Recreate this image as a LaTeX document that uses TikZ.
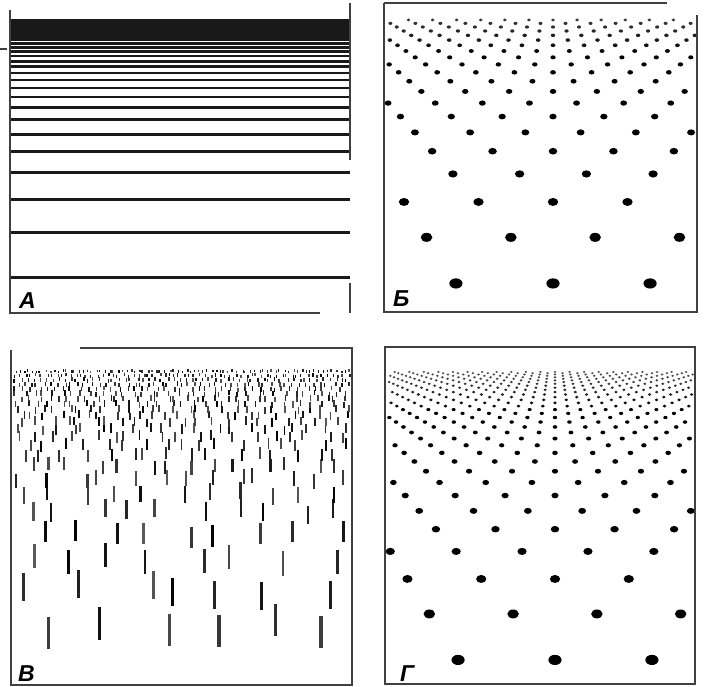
\documentclass[tikz,border=0pt]{standalone}
\usepackage{fontspec}
\setmainfont{Liberation Sans}
\begin{document}
\begin{tikzpicture}[x=1pt,y=-1pt,
  frame/.style={line width=1.1pt,black!75},
  lab/.style={font=\fontsize{23}{23}\selectfont\bfseries\itshape,inner sep=0pt,anchor=base west}]
\useasboundingbox (0,0) rectangle (705,687);
\fill[white] (0,0) rectangle (705,687);
% ---------------- Panel A ----------------
\foreach \n in {0,...,26}{
  \pgfmathsetmacro\yy{-40+1927/(\n+6.06)}
  \pgfmathsetmacro\gg{1927/((\n+6.06)*(\n+7.06))}
  \pgfmathsetmacro\lw{2.8+0.004*\gg}
  \draw[line width=\lw pt,black!90] (10,\yy) -- (350,\yy);
}
\fill[black!90] (10,21) rectangle (350,40);
\draw[frame] (10,10) -- (10,313) -- (320,313);
\draw[frame] (350,3) -- (350,160);
\draw[frame] (350,283) -- (350,313);
\draw[frame] (0,49) -- (7,49);
\node[lab] (la) at (19,309) {А};
% ---------------- Panel B ----------------
\foreach \k in {0,...,20}{
  \pgfmathsetmacro\yy{-67+2313/(\k+6.6)}
  \pgfmathsetmacro\ss{0.277*(\yy+67)}
  \pgfmathsetmacro\rx{0.4+0.064*\ss}
  \pgfmathsetmacro\ry{0.35+0.049*\ss}
  \pgfmathtruncatemacro\nn{170/\ss+1}
  \pgfmathsetmacro\off{0.5*mod(\k,2)}
  \pgfmathsetmacro\shade{min(100,25+2.2*\ss)}
  \foreach \j in {-\nn,...,\nn}{
    \pgfmathsetmacro\xx{553+(\j+\off)*\ss}
    \ifdim\xx pt>387pt \ifdim\xx pt<695pt
      \fill[black!\shade] (\xx,\yy) ellipse [x radius=\rx, y radius=\ry];
    \fi\fi
  }
}
\draw[frame] (384,3) -- (384,312) -- (697,312) -- (697,15);
\draw[frame] (384,3) -- (667,3);
\node[lab] (lb) at (393,307) {Б};
% ---------------- Panel V ----------------
\pgfmathsetseed{4242}
\foreach \k in {0,...,22}{
  \pgfmathsetmacro\yy{628-4*\k-170*(1-0.8^\k)}
  \pgfmathsetmacro\gg{4+34*0.8^\k}
  \pgfmathsetmacro\LL{3+0.115*(\yy-375)}
  \pgfmathsetmacro\ss{5+0.2*(\yy-375)}
  \pgfmathsetmacro\ww{1.4+0.008*(\yy-375)}
  \pgfmathtruncatemacro\nn{338/\ss}
  \pgfmathsetmacro\cw{338/\nn}
  \pgfmathtruncatemacro\nm{\nn-1}
  \foreach \j in {0,...,\nm}{
    \pgfmathsetmacro\xx{13+(\j+0.5+0.42*rand)*\cw}
    \pgfmathsetmacro\yc{\yy+0.22*\gg*rand}
    \pgfmathsetmacro\shade{65+35*rnd}
    \ifdim\xx pt>13pt \ifdim\xx pt<350pt
      \draw[line width=\ww pt,black!\shade] (\xx,\yc-0.5*\LL) -- (\xx,\yc+0.5*\LL);
    \fi\fi
  }
}
\draw[frame] (11,350) -- (11,685) -- (352,685) -- (352,348) -- (80,348);
\node[lab] (lv) at (18,681) {В};
% ---------------- Panel G ----------------
\foreach \k in {0,...,36}{
  \pgfmathsetmacro\yy{321+2159/(\k+6.37)}
  \pgfmathsetmacro\ss{0.286*(\yy-321)}
  \pgfmathsetmacro\rx{0.4+0.064*\ss}
  \pgfmathsetmacro\ry{0.35+0.049*\ss}
  \pgfmathtruncatemacro\nn{170/\ss+1}
  \pgfmathsetmacro\off{0.5*mod(\k,2)}
  \pgfmathsetmacro\shade{min(100,25+3*\ss)}
  \foreach \j in {-\nn,...,\nn}{
    \pgfmathsetmacro\xx{555+(\j+\off)*\ss}
    \ifdim\xx pt>388pt \ifdim\xx pt<693pt
      \fill[black!\shade] (\xx,\yy) ellipse [x radius=\rx, y radius=\ry];
    \fi\fi
  }
}
\draw[frame] (385,347) rectangle (695,684);
\node[lab] (lg) at (400,681) {Г};
\end{tikzpicture}
\end{document}
